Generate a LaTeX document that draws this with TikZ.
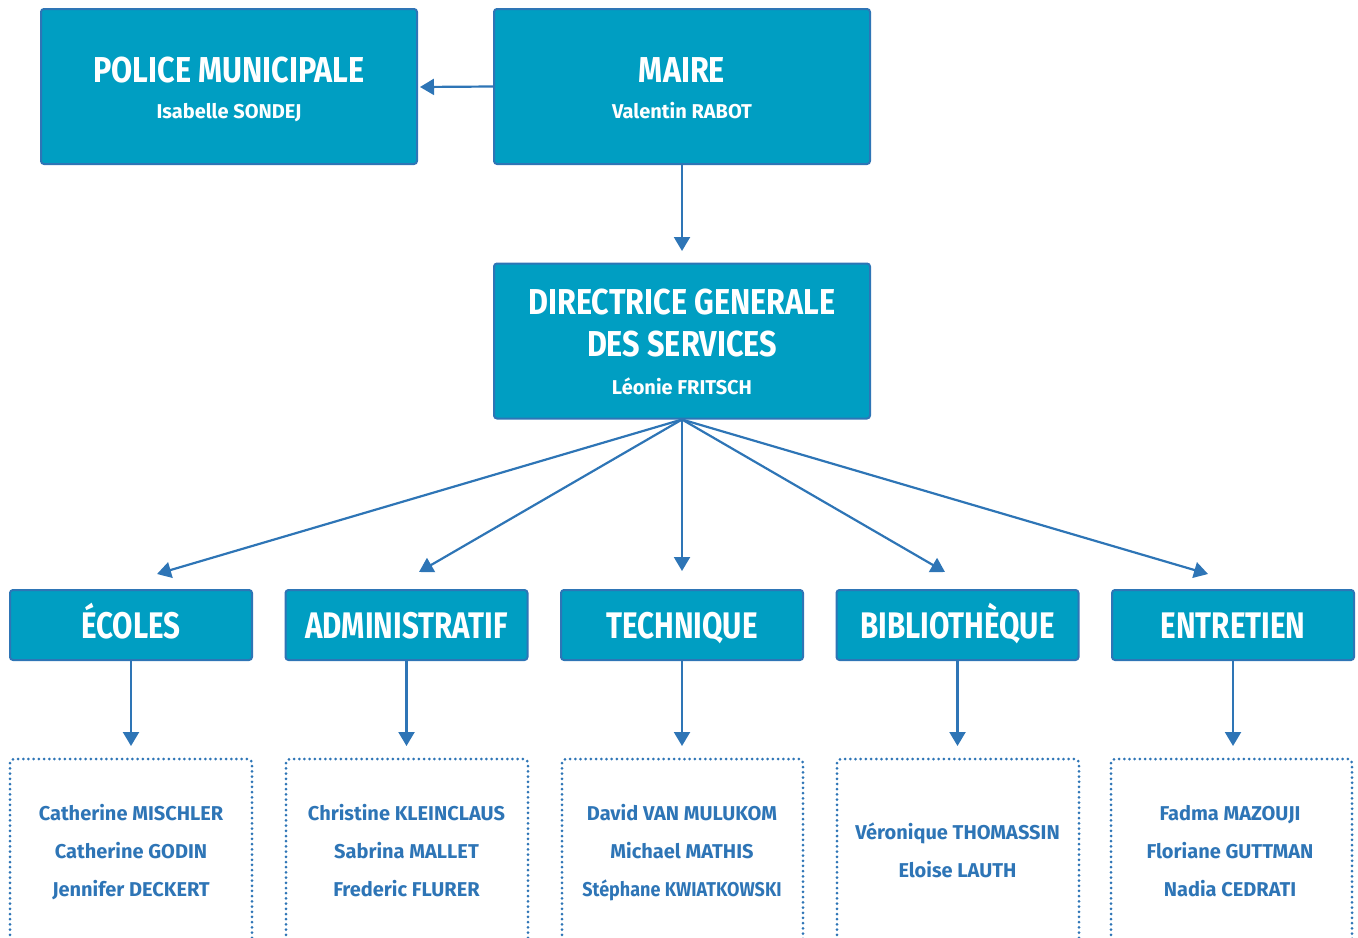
\documentclass[tikz,border=0pt]{standalone}
\usepackage{fontspec}
\setmainfont{Fira Sans}
\newfontfamily\headfont{Fira Sans Bold}[FakeStretch=0.8]
\newfontfamily\topheadfont{Fira Sans Bold}[FakeStretch=0.85]
\newfontfamily\namefont{Fira Sans Bold}
\newfontfamily\narrowname{Fira Sans Bold}[FakeStretch=0.9]
\usetikzlibrary{arrows.meta,calc}
\definecolor{boxfill}{HTML}{009EC2}
\definecolor{boxline}{HTML}{2E75B6}
\definecolor{arrowc}{HTML}{2E75B6}
\definecolor{namec}{HTML}{2E75B6}
\begin{document}
\begin{tikzpicture}[x=0.5pt,y=-0.5pt,
  bigbox/.style={draw=boxline, line width=1pt, fill=boxfill, rounded corners=1.5pt, minimum width=188pt, minimum height=77.5pt, inner sep=0pt},
  catbox/.style={bigbox, minimum width=121pt, minimum height=35pt},
  head/.style={anchor=base, text=white, font=\topheadfont\fontsize{18}{18}\selectfont, inner sep=0pt},
  cathead/.style={anchor=base, text=white, font=\headfont\fontsize{18.5}{18.5}\selectfont, inner sep=0pt},
  sub/.style={anchor=base, text=white, font=\namefont\fontsize{10}{10}\selectfont, inner sep=0pt},
  person/.style={anchor=base, text=namec, font=\namefont\fontsize{10}{10}\selectfont, inner sep=0pt},
  arr/.style={draw=arrowc, line width=1.1pt, -{Triangle[width=8pt,length=7pt]}},
  listbox/.style={draw=boxline, line width=1.5pt, line cap=round, dash pattern=on 0pt off 2.6pt, rounded corners=2pt},
]
\useasboundingbox (0,0) rectangle (1358,937);

% top boxes
\node[bigbox] (police) at (229,86.5) {};
\node[head] (police-h) at (229,82) {POLICE MUNICIPALE};
\node[sub] (police-n) at (229,118) {Isabelle SONDEJ};

\node[bigbox] (maire) at (682,86.5) {};
\node[head] (maire-h) at (682,82) {MAIRE};
\node[sub] (maire-n) at (682,118) {Valentin RABOT};

\node[bigbox] (dgs) at (682,341) {};
\node[head] (dgs-h1) at (682,314) {DIRECTRICE GENERALE};
\node[head] (dgs-h2) at (682,356) {DES SERVICES};
\node[sub] (dgs-n) at (682,394) {Léonie FRITSCH};

% category boxes
\node[catbox] (c1) at (131,625) {};
\node[cathead] (c1-h) at (131,638) {ÉCOLES};
\node[catbox] (c2) at (406.5,625) {};
\node[cathead] (c2-h) at (406.5,638) {ADMINISTRATIF};
\node[catbox] (c3) at (682,625) {};
\node[cathead] (c3-h) at (682,638) {TECHNIQUE};
\node[catbox] (c4) at (957.5,625) {};
\node[cathead] (c4-h) at (957.5,638) {BIBLIOTHÈQUE};
\node[catbox] (c5) at (1233,625) {};
\node[cathead] (c5-h) at (1233,638) {ENTRETIEN};

% list boxes (open at the bottom)
\draw[listbox] (10,940) -- (10,759) -- (252,759) -- (252,940);
\draw[listbox] (286,940) -- (286,759) -- (528,759) -- (528,940);
\draw[listbox] (562,940) -- (562,759) -- (803,759) -- (803,940);
\draw[listbox] (837,940) -- (837,759) -- (1079,759) -- (1079,940);
\draw[listbox] (1111,940) -- (1111,759) -- (1352,759) -- (1352,940);

\node[person] (p11) at (131,820) {Catherine MISCHLER};
\node[person] (p12) at (131,858) {Catherine GODIN};
\node[person] (p13) at (131,896) {Jennifer DECKERT};

\node[person] (p21) at (406.5,820) {Christine KLEINCLAUS};
\node[person] (p22) at (406.5,858) {Sabrina MALLET};
\node[person] (p23) at (406.5,896) {Frederic FLURER};

\node[person] (p31) at (682,820) {David VAN MULUKOM};
\node[person] (p32) at (682,858) {Michael MATHIS};
\node[person, font=\narrowname\fontsize{10}{10}\selectfont] (p33) at (682,896) {Stéphane KWIATKOWSKI};

\node[person] (p41) at (957.5,839) {Véronique THOMASSIN};
\node[person] (p42) at (957.5,877) {Eloise LAUTH};

\node[person] (p51) at (1230,820) {Fadma MAZOUJI};
\node[person] (p52) at (1230,858) {Floriane GUTTMAN};
\node[person] (p53) at (1230,896) {Nadia CEDRATI};

% arrow end points
\coordinate (tp) at (420,87);
\coordinate (td) at (682,251);
\coordinate (t1) at (157,574);
\coordinate (t2) at (419,572);
\coordinate (t3) at (682,571);
\coordinate (t4) at (945,572);
\coordinate (t5) at (1208,574);
\coordinate (l1) at (131,746);
\coordinate (l2) at (406.5,746);
\coordinate (l3) at (682,746);
\coordinate (l4) at (957.5,746);
\coordinate (l5) at (1233,746);

% connectors
\draw[arr] (maire.west) -- (tp);
\draw[arr] (maire.south) -- (td);
\foreach \i in {1,...,5}{
  \draw[arr] (dgs.south) -- (t\i);
  \draw[arr] (c\i.south) -- (l\i);
}
\end{tikzpicture}
\end{document}
